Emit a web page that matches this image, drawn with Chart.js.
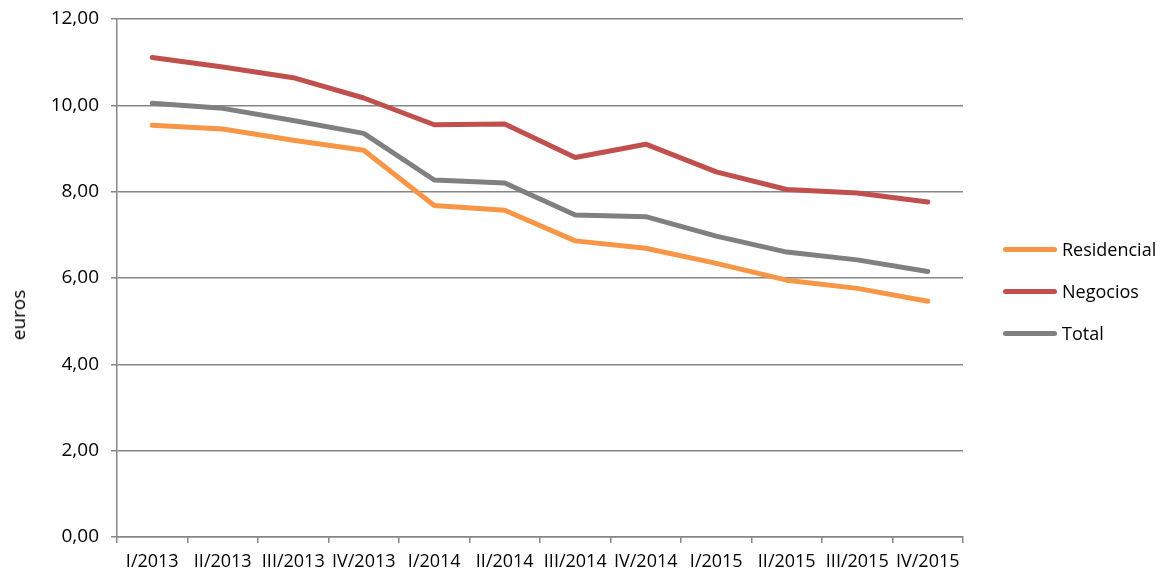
<!DOCTYPE html>
<html lang="es">
<head>
  <meta charset="UTF-8" />
  <title>Precio medio - euros</title>
  <script src="https://cdn.jsdelivr.net/npm/chart.js"></script>
  <style>
    body { margin: 0; background: #fff; font-family: "Open Sans", sans-serif; }
    #wrap { position: relative; width: 1168px; height: 574px; }
    #yTitle { position: absolute; left: 18px; top: 315px; transform: translate(-50%, -50%) rotate(-90deg); font-size: 19px; color: #000; }
    #legend { position: absolute; left: 1003px; top: 228px; }
    .item { display: flex; align-items: center; height: 42px; font-size: 18px; color: #000; }
    .swatch { width: 54px; height: 5px; border-radius: 3px; margin-right: 5px; }
  </style>
</head>
<body>
  <div id="wrap">
    <canvas id="chart" width="1168" height="574"></canvas>
    <div id="yTitle">euros</div>
    <div id="legend"></div>
  </div>
  <script>
    const quarters = ['I/2013', 'II/2013', 'III/2013', 'IV/2013', 'I/2014', 'II/2014', 'III/2014', 'IV/2014', 'I/2015', 'II/2015', 'III/2015', 'IV/2015'];
    const residencial = [9.54, 9.45, 9.19, 8.96, 7.68, 7.57, 6.86, 6.69, 6.34, 5.95, 5.76, 5.46];
    const negocios = [11.11, 10.89, 10.64, 10.17, 9.55, 9.57, 8.79, 9.10, 8.46, 8.05, 7.97, 7.76];
    const total = [10.05, 9.93, 9.65, 9.35, 8.27, 8.20, 7.46, 7.42, 6.97, 6.60, 6.42, 6.15];

    const series = [
      { label: 'Residencial', data: residencial, color: '#F79646' },
      { label: 'Negocios', data: negocios, color: '#C0504D' },
      { label: 'Total', data: total, color: '#808080' }
    ];

    const font = { family: '"Open Sans", sans-serif', size: 18 };

    new Chart(document.getElementById('chart'), {
      type: 'line',
      data: {
        labels: quarters,
        datasets: series.map(s => ({
          label: s.label,
          data: s.data,
          borderColor: s.color,
          backgroundColor: s.color,
          borderWidth: 5,
          pointRadius: 0,
          tension: 0,
          borderJoinStyle: 'round',
          borderCapStyle: 'round',
          fill: false
        }))
      },
      options: {
        responsive: false,
        animation: false,
        layout: { padding: { top: 19, right: 205, bottom: 0, left: 0 } },
        plugins: { legend: { display: false }, tooltip: { enabled: false } },
        scales: {
          x: {
            offset: true,
            grid: { offset: true, drawOnChartArea: false, color: '#868686', lineWidth: 1.5, tickLength: 6 },
            border: { color: '#868686', width: 1.5 },
            ticks: { color: '#000', font, padding: 8, maxRotation: 0, autoSkip: false },
            afterFit: s => { s.height = 37; }
          },
          y: {
            min: 0,
            max: 12,
            grid: { color: '#868686', lineWidth: 1.5, tickLength: 6 },
            border: { color: '#868686', width: 1.5 },
            ticks: {
              stepSize: 2,
              color: '#000',
              font: { family: font.family, size: 19, lineHeight: 1 },
              padding: 12,
              callback: v => v.toFixed(2).replace('.', ',')
            },
            afterFit: s => { s.width = 117; s.paddingTop = 0; }
          }
        }
      }
    });

    const legend = document.getElementById('legend');
    series.forEach(s => {
      const div = document.createElement('div');
      div.className = 'item';
      div.innerHTML = `<span class="swatch" style="background:${s.color}"></span><span>${s.label}</span>`;
      legend.appendChild(div);
    });
  </script>
</body>
</html>
